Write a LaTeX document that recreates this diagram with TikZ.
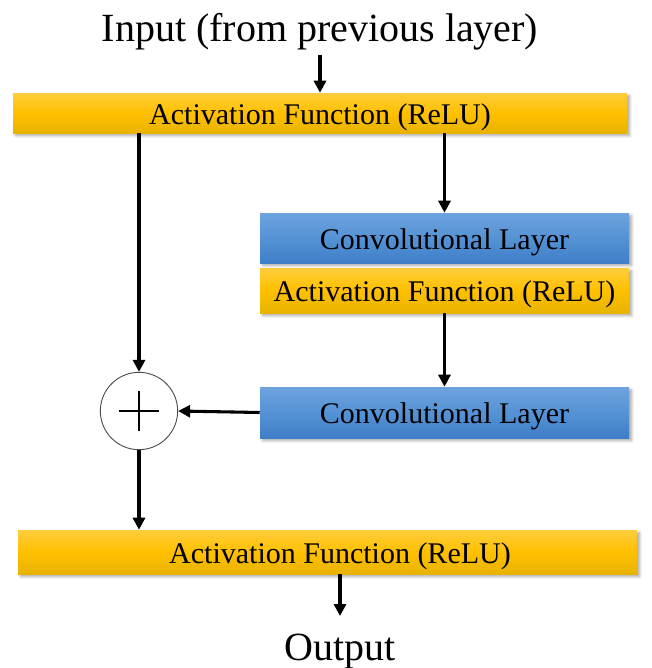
\documentclass[tikz,border=0pt]{standalone}
\usepackage{fontspec}
\setmainfont{Liberation Serif}
\usetikzlibrary{arrows.meta,shadows.blur}
\definecolor{reluTop}{HTML}{FFCD3C}
\definecolor{reluMid}{HTML}{FFC000}
\definecolor{reluBot}{HTML}{E8B300}
\definecolor{convTop}{HTML}{6EA3DE}
\definecolor{convMid}{HTML}{5592D5}
\definecolor{convBot}{HTML}{3F7FC8}
\tikzset{
  blockbase/.style={draw=none, inner sep=0pt, align=center,
    text height=17pt, text depth=0pt,
    font=\fontsize{22.5}{27}\selectfont,
    blur shadow={shadow xshift=2pt, shadow yshift=-2pt, shadow blur steps=6,
      shadow opacity=35, shadow blur radius=2pt}},
  relubox/.style={blockbase, top color=reluTop, bottom color=reluBot, middle color=reluMid},
  convbox/.style={blockbase, top color=convTop, bottom color=convBot, middle color=convMid},
  flow/.style={line width=2.3pt, -{Triangle[width=9pt,length=9pt]}},
  caption/.style={font=\fontsize{30}{36}\selectfont, inner sep=0pt},
  sumnode/.style={circle, draw=black!70, line width=0.7pt, fill=white,
    minimum size=58pt, inner sep=0pt},
}
\begin{document}
\begin{tikzpicture}[x=0.75pt, y=-0.75pt]
  \useasboundingbox (0,0) rectangle (652,668);

  % captions
  \node[caption, anchor=base] (input) at (320,41) {Input (from previous layer)};
  \node[caption, anchor=base] (output) at (340,660) {Output};

  % blocks
  \node[relubox, minimum width=460.5pt, minimum height=30pt] (relu1) at (320,113) {Activation Function (ReLU)};
  \node[convbox, minimum width=276.75pt, minimum height=37.5pt] (conv1) at (444.5,238) {Convolutional Layer};
  \node[relubox, minimum width=276.75pt, minimum height=33.75pt] (relu2) at (444.5,290.5) {Activation Function (ReLU)};
  \node[convbox, minimum width=276.75pt, minimum height=38.25pt] (conv2) at (444.5,412.5) {Convolutional Layer};
  \node[relubox, minimum width=464.25pt, minimum height=33pt] (relu3) at (327.5,552) {\hspace*{18.75pt}Activation Function (ReLU)};

  % summation junction
  \node[sumnode] (sum) at (139,411) {};
  \draw[line width=1.6pt] ([xshift=-15pt]sum.center) -- ([xshift=15pt]sum.center)
                          ([yshift=-15pt]sum.center) -- ([yshift=15pt]sum.center);

  \coordinate (outend) at (340,616);

  % connectors
  \draw[flow] (320,55) -- (relu1.north);
  \draw[flow] (relu1.south -| sum.north) -- (sum.north);
  \draw[flow] (relu1.south -| conv1.north) -- (conv1.north);
  \draw[flow] (relu2.south) -- (conv2.north);
  \draw[flow] (conv2.west) -- (sum.east);
  \draw[flow] (sum.south) -- (relu3.north -| sum.south);
  \draw[flow] (relu3.south -| outend) -- (outend);
\end{tikzpicture}
\end{document}
